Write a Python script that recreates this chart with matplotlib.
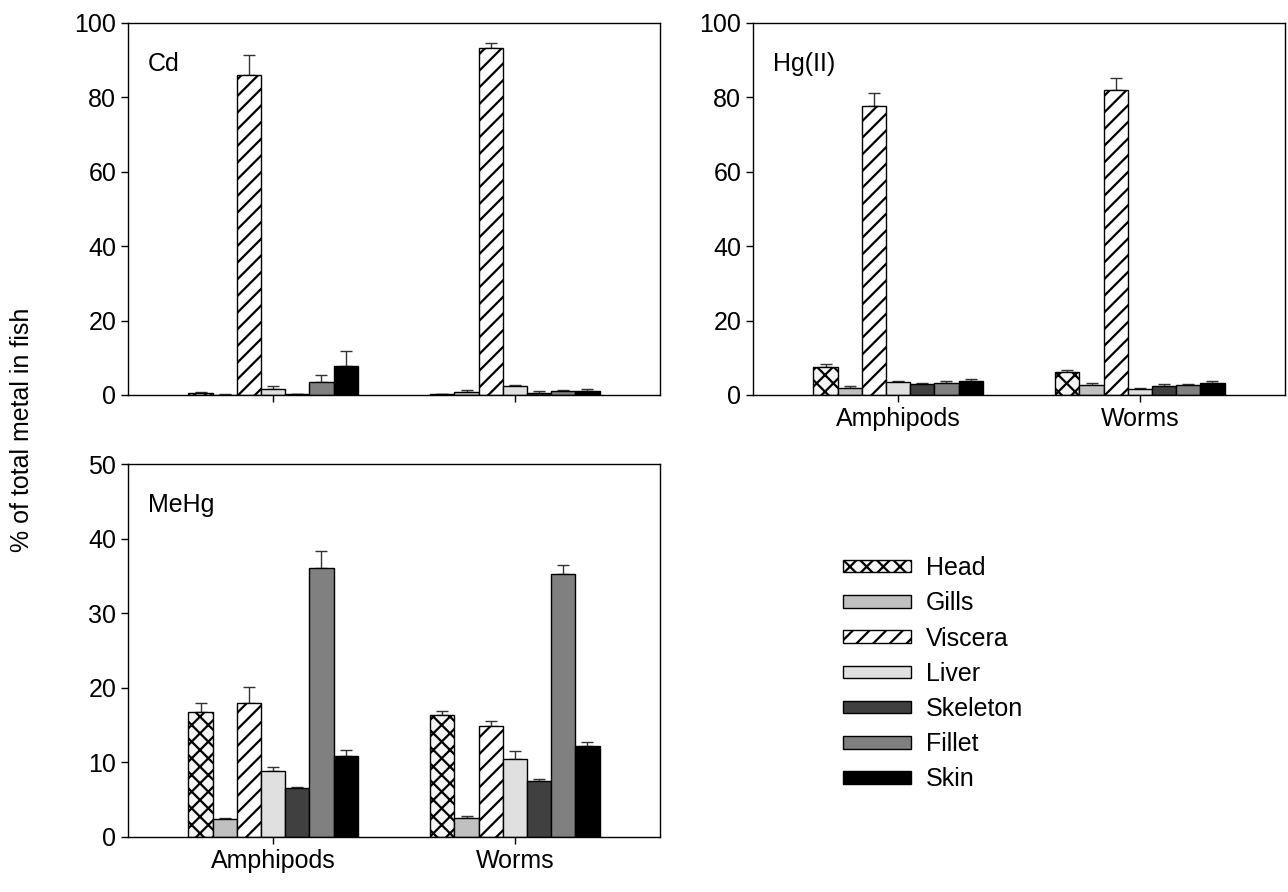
import matplotlib
matplotlib.use('Agg')
from matplotlib import pyplot as plt
import numpy as np

plt.rcParams['font.family'] = ['Liberation Sans', 'DejaVu Sans']
plt.rcParams['hatch.linewidth'] = 1.6

# Data
diets = ['Amphipods', 'Worms']
tissues = ['Head', 'Gills', 'Viscera', 'Liver', 'Skeleton', 'Fillet', 'Skin']

cd_mean = [[0.6, 0.1, 85.9, 1.6, 0.3, 3.6, 7.8],
           [0.3, 0.9, 93.4, 2.3, 0.6, 1.1, 1.1]]
cd_err = [[0.3, 0.1, 5.4, 0.7, 0.1, 1.9, 4.0],
          [0.1, 0.4, 1.3, 0.4, 0.4, 0.3, 0.4]]

hg_mean = [[7.6, 1.9, 77.8, 3.4, 3.0, 3.2, 3.7],
           [6.1, 2.7, 82.1, 1.6, 2.3, 2.6, 3.2]]
hg_err = [[0.8, 0.4, 3.5, 0.3, 0.3, 0.6, 0.5],
          [0.7, 0.6, 3.0, 0.4, 0.6, 0.4, 0.6]]

mehg_mean = [[16.8, 2.4, 18.0, 8.9, 6.6, 36.1, 10.9],
             [16.4, 2.6, 14.9, 10.5, 7.5, 35.3, 12.2]]
mehg_err = [[1.2, 0.2, 2.1, 0.5, 0.15, 2.2, 0.8],
            [0.5, 0.2, 0.6, 1.0, 0.3, 1.2, 0.6]]

colors = ['#f4f4f4', '#c0c0c0', 'white', '#e0e0e0', '#404040', '#808080', 'black']
hatches = ['xx', None, '//', None, None, None, None]


def draw_panel(ax, mean, err, label, ymax, ystep, show_xlabels):
    mean = np.array(mean)
    err = np.array(err)
    x = np.arange(len(diets))
    w = 0.1
    bars = []
    for i, t in enumerate(tissues):
        pos = x + (i - 3) * w
        b = ax.bar(pos, mean[:, i], width=w, color=colors[i], hatch=hatches[i],
                   edgecolor='black', linewidth=1.0, label=t, zorder=2)
        ax.errorbar(pos, mean[:, i], yerr=[np.zeros(len(diets)), err[:, i]],
                    fmt='none', ecolor='#333333', elinewidth=1.0, capsize=4.5,
                    capthick=1.0, zorder=1)
        bars.append(b)
    ax.set_xlim(-0.6, 1.6)
    ax.set_ylim(0, ymax)
    ax.set_yticks(np.arange(0, ymax + 1, ystep))
    ax.set_xticks(x)
    if show_xlabels:
        ax.set_xticklabels(diets)
    else:
        ax.set_xticklabels([])
    ax.tick_params(direction='out', length=5, labelsize=18, width=1)
    for s in ax.spines.values():
        s.set_linewidth(1.0)
    ax.text(0.038, 0.89, label, transform=ax.transAxes, fontsize=18,
            ha='left', va='center')
    return bars


fig = plt.figure(figsize=(12.88, 8.92), dpi=100)
ax_cd = fig.add_axes([128 / 1288, 1 - 395 / 892, 532 / 1288, 372 / 892])
ax_hg = fig.add_axes([753 / 1288, 1 - 395 / 892, 532 / 1288, 372 / 892])
ax_me = fig.add_axes([128 / 1288, 1 - 837 / 892, 532 / 1288, 373 / 892])

draw_panel(ax_cd, cd_mean, cd_err, 'Cd', 100, 20, False)
draw_panel(ax_hg, hg_mean, hg_err, 'Hg(II)', 100, 20, True)
bars = draw_panel(ax_me, mehg_mean, mehg_err, 'MeHg', 50, 10, True)

fig.text(22 / 1288, 0.518, '% of total metal in fish', rotation=90,
         fontsize=18, ha='center', va='center')

fig.legend(handles=bars, labels=tissues, loc='upper left',
           bbox_to_anchor=(843 / 1288, 1 - 556 / 892), frameon=False,
           fontsize=18, handlelength=2.7, handleheight=0.4,
           labelspacing=0.45, handletextpad=0.6, borderpad=0, borderaxespad=0)

plt.savefig('out.png', dpi=100)
